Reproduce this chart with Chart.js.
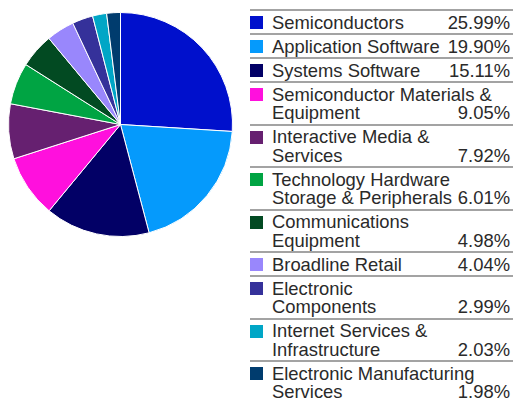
<!DOCTYPE html>
<html>
<head>
<meta charset="utf-8">
<script src="https://cdn.jsdelivr.net/npm/chart.js@4"></script>
<style>
  body { margin: 0; background: #fff; width: 513px; height: 401px; overflow: hidden; position: relative; font-family: "Liberation Sans", Arial, sans-serif; }
  #pieBox { position: absolute; left: 8px; top: 12px; width: 225px; height: 225px; }
  #legend { position: absolute; left: 250px; top: 9px; width: 263px; border-top: 2px solid #a3a3a3; }
  .row { position: relative; border-bottom: 2px solid #a3a3a3; padding: 2.5px 0 1px 22px; font-size: 18.4px; line-height: 18.5px; color: #2a2a2a; }
  .sw { position: absolute; left: 0; top: 5px; width: 13px; height: 13px; }
  .tail { white-space: nowrap; }
  .sp { display: inline-block; width: 60px; height: 1px; }
  .pct { position: absolute; right: 3px; bottom: 1px; }
</style>
</head>
<body>
<div id="pieBox"><canvas id="pie"></canvas></div>
<div id="legend"></div>
<script>
const categories = [
  'Semiconductors',
  'Application Software',
  'Systems Software',
  'Semiconductor Materials & Equipment',
  'Interactive Media & Services',
  'Technology Hardware Storage & Peripherals',
  'Communications Equipment',
  'Broadline Retail',
  'Electronic Components',
  'Internet Services & Infrastructure',
  'Electronic Manufacturing Services'
];
const weights = [25.99, 19.90, 15.11, 9.05, 7.92, 6.01, 4.98, 4.04, 2.99, 2.03, 1.98];
const colors = ['#0010CC', '#059AFC', '#020066', '#FF10DD', '#662070', '#00A443',
                '#024A22', '#9987FC', '#35319A', '#00A6C6', '#003C6E'];

new Chart(document.getElementById('pie').getContext('2d'), {
  type: 'pie',
  data: {
    labels: categories,
    datasets: [{
      data: weights,
      backgroundColor: colors,
      borderColor: '#fff',
      borderWidth: 1
    }]
  },
  options: {
    responsive: true,
    maintainAspectRatio: false,
    animation: false,
    plugins: { legend: { display: false }, tooltip: { enabled: false } }
  }
});

// legend table on the right
const legend = document.getElementById('legend');
categories.forEach((name, i) => {
  const row = document.createElement('div');
  row.className = 'row';
  const words = name.split(' ');
  const last = words.pop();
  const sw = document.createElement('span');
  sw.className = 'sw';
  sw.style.background = colors[i];
  row.appendChild(sw);
  if (words.length) row.appendChild(document.createTextNode(words.join(' ') + ' '));
  // keep the last word together with the room left for the percent
  const tail = document.createElement('span');
  tail.className = 'tail';
  tail.textContent = last;
  const sp = document.createElement('span');
  sp.className = 'sp';
  tail.appendChild(sp);
  row.appendChild(tail);
  const pct = document.createElement('span');
  pct.className = 'pct';
  pct.textContent = weights[i].toFixed(2) + '%';
  row.appendChild(pct);
  legend.appendChild(row);
});
</script>
</body>
</html>
